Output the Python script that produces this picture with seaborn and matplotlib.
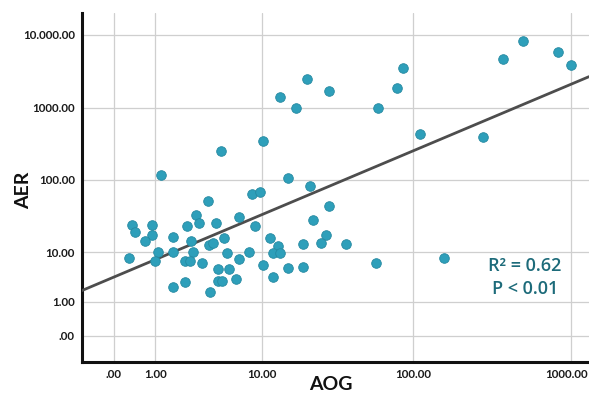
import numpy as np
import matplotlib
matplotlib.use("Agg")
import matplotlib.pyplot as plt
import matplotlib.transforms as mtransforms
import seaborn as sns
import pandas as pd

# ---------------- data ----------------
aog = [0.43, 0.51, 0.92, 0.92, 0.75, 0.37, 1.05, 1.0, 1.45, 1.45,
       1.99, 2.39, 2.55, 2.14, 2.26, 1.89, 2.10, 2.72, 1.45, 1.89,
       3.12, 3.19, 3.43, 3.24, 8.06, 9.5, 3.66, 6.05, 8.6, 27.8,
       21.6, 26.5, 24.4, 18.6, 11.2, 12.8, 11.8, 13.2, 4.38, 4.64,
       7.55, 6.05, 3.87, 4.91, 10.1, 14.9, 18.6, 3.87, 4.17, 5.67,
       11.7, 1.13, 4.1, 10.1, 13.2, 16.7, 19.7, 27.7, 58.9, 78.0,
       85.5, 111, 14.9, 20.7, 35.9, 56.8, 157, 373, 499, 831,
       1000, 276]
aer = [23.9, 18.9, 23.9, 17.3, 14.3, 7.56, 10.0, 6.76, 16.1, 10.0,
       23.3, 32.8, 25.7, 14.5, 10.0, 6.67, 6.67, 5.99, 2.01, 2.54,
       51.2, 12.6, 13.3, 1.59, 64.0, 68.9, 25.7, 30.5, 23.3, 43.7,
       28.0, 17.3, 13.6, 13.0, 15.6, 12.2, 9.55, 9.8, 15.6, 9.55,
       10.0, 7.32, 4.53, 4.53, 5.53, 4.88, 5.11, 2.66, 2.66, 2.84,
       3.21, 117, 255, 351, 1400, 1010, 2520, 1730, 1010, 1900,
       3500, 431, 108, 82.6, 13.0, 5.99, 7.56, 4650, 8360, 5900,
       3880, 392]

# fitted line end points
fit_aog = [-0.78, 1300]
fit_aer = [1.67, 2685]

x_ticks = [0, 1, 10, 100, 1000]
x_tick_labels = [".00", "1.00", "10.00", "100.00", "1000.00"]
y_ticks = [0, 1, 10, 100, 1000, 10000]
y_tick_labels = [".00", "1.00", "10.00", "100.00", "1000.00", "10.000.00"]

annot_r2 = "R\u00b2 = 0.62"
annot_p = "P < 0.01"

# ---------------- axis scale (as drawn in the reference) ----------------
def make_scale(anchor_pos):
    pos = np.asarray(anchor_pos, float)   # positions at v = 0, 1, 10, 100, ...
    us = np.arange(len(pos) - 1, dtype=float)  # log10 values for v = 1, 10, ...
    lp = pos[1:]
    last_slope = lp[-1] - lp[-2]

    def fwd(v):
        v = np.asarray(v, float)
        safe = np.where(v >= 1, v, 1.0)
        u = np.log10(safe)
        p_log = np.interp(u, us, lp)
        p_log = np.where(u > us[-1], lp[-1] + (u - us[-1]) * last_slope, p_log)
        return np.where(v < 1, v * pos[1], p_log)

    def inv(p):
        p = np.asarray(p, float)
        u = np.interp(p, lp, us)
        u = np.where(p > lp[-1], us[-1] + (p - lp[-1]) / last_slope, u)
        return np.where(p < pos[1], p / pos[1], 10.0 ** u)

    return fwd, inv

xf, xi = make_scale([0, 41.5, 148.3, 299.0, 457.0])
yf, yi = make_scale([0, 34.0, 83.4, 155.7, 227.7, 300.7])

# ---------------- figure ----------------
sns.set_style("white")
plt.rcParams["font.family"] = ["Lato", "DejaVu Sans"]

W, H = 589, 396
fig = plt.figure(figsize=(W / 100, H / 100), dpi=100)
ax = fig.add_axes([81.7 / W, (H - 362) / H, (W - 81.7) / W, (362 - 13) / H])

ax.set_xscale("function", functions=(xf, xi))
ax.set_yscale("function", functions=(yf, yi))
ax.set_xlim(-0.778, 1300)
ax.set_ylim(-0.774, 20000)

df = pd.DataFrame({"AOG": aog, "AER": aer})
line_df = pd.DataFrame({"AOG": fit_aog, "AER": fit_aer})

sns.lineplot(data=line_df, x="AOG", y="AER", ax=ax, color="#4d4d4d",
             linewidth=2.0, zorder=3)
sns.scatterplot(data=df, x="AOG", y="AER", ax=ax, s=48, color="#2e9fba",
                edgecolor="#2689a1", linewidth=0.6, zorder=4)

ax.set_xticks(x_ticks)
ax.set_xticklabels(x_tick_labels)
ax.set_yticks(y_ticks)
ax.set_yticklabels(y_tick_labels)
ax.xaxis.set_minor_locator(matplotlib.ticker.NullLocator())
ax.yaxis.set_minor_locator(matplotlib.ticker.NullLocator())
ax.tick_params(axis="both", length=0, labelsize=8.3, colors="#1a1a1a")
ax.tick_params(axis="x", pad=5)
ax.tick_params(axis="y", pad=5)
for lab in ax.get_xticklabels() + ax.get_yticklabels():
    lab.set_fontweight("bold")
# keep the last x label inside the picture
last = ax.get_xticklabels()[-1]
last.set_transform(last.get_transform() +
                   mtransforms.ScaledTranslation(-3 / 72, 0, fig.dpi_scale_trans))

ax.grid(True, color="#cfcfcf", linewidth=0.9)
ax.set_axisbelow(True)

for s in ["top", "right"]:
    ax.spines[s].set_visible(False)
for s in ["left", "bottom"]:
    ax.spines[s].set_color("#111111")
    ax.spines[s].set_linewidth(2.2)

ax.set_xlabel("")
ax.set_ylabel("")
fig.text(331 / W, 1 - 384 / H, "AOG", ha="center", va="center",
         fontsize=14, fontweight="bold", color="#111111")
fig.text(24 / W, 1 - 190 / H, "AER", ha="center", va="center",
         rotation=90, fontsize=14, fontweight="bold", color="#111111")

fig.text(525 / W, 1 - 266 / H, annot_r2, ha="center", va="center",
         fontsize=13, fontweight="semibold", color="#1d6b7a",
         family=["Open Sans", "DejaVu Sans"])
fig.text(525 / W, 1 - 289 / H, annot_p, ha="center", va="center",
         fontsize=13, fontweight="semibold", color="#1d6b7a",
         family=["Open Sans", "DejaVu Sans"])

fig.savefig("out.png", dpi=100)
